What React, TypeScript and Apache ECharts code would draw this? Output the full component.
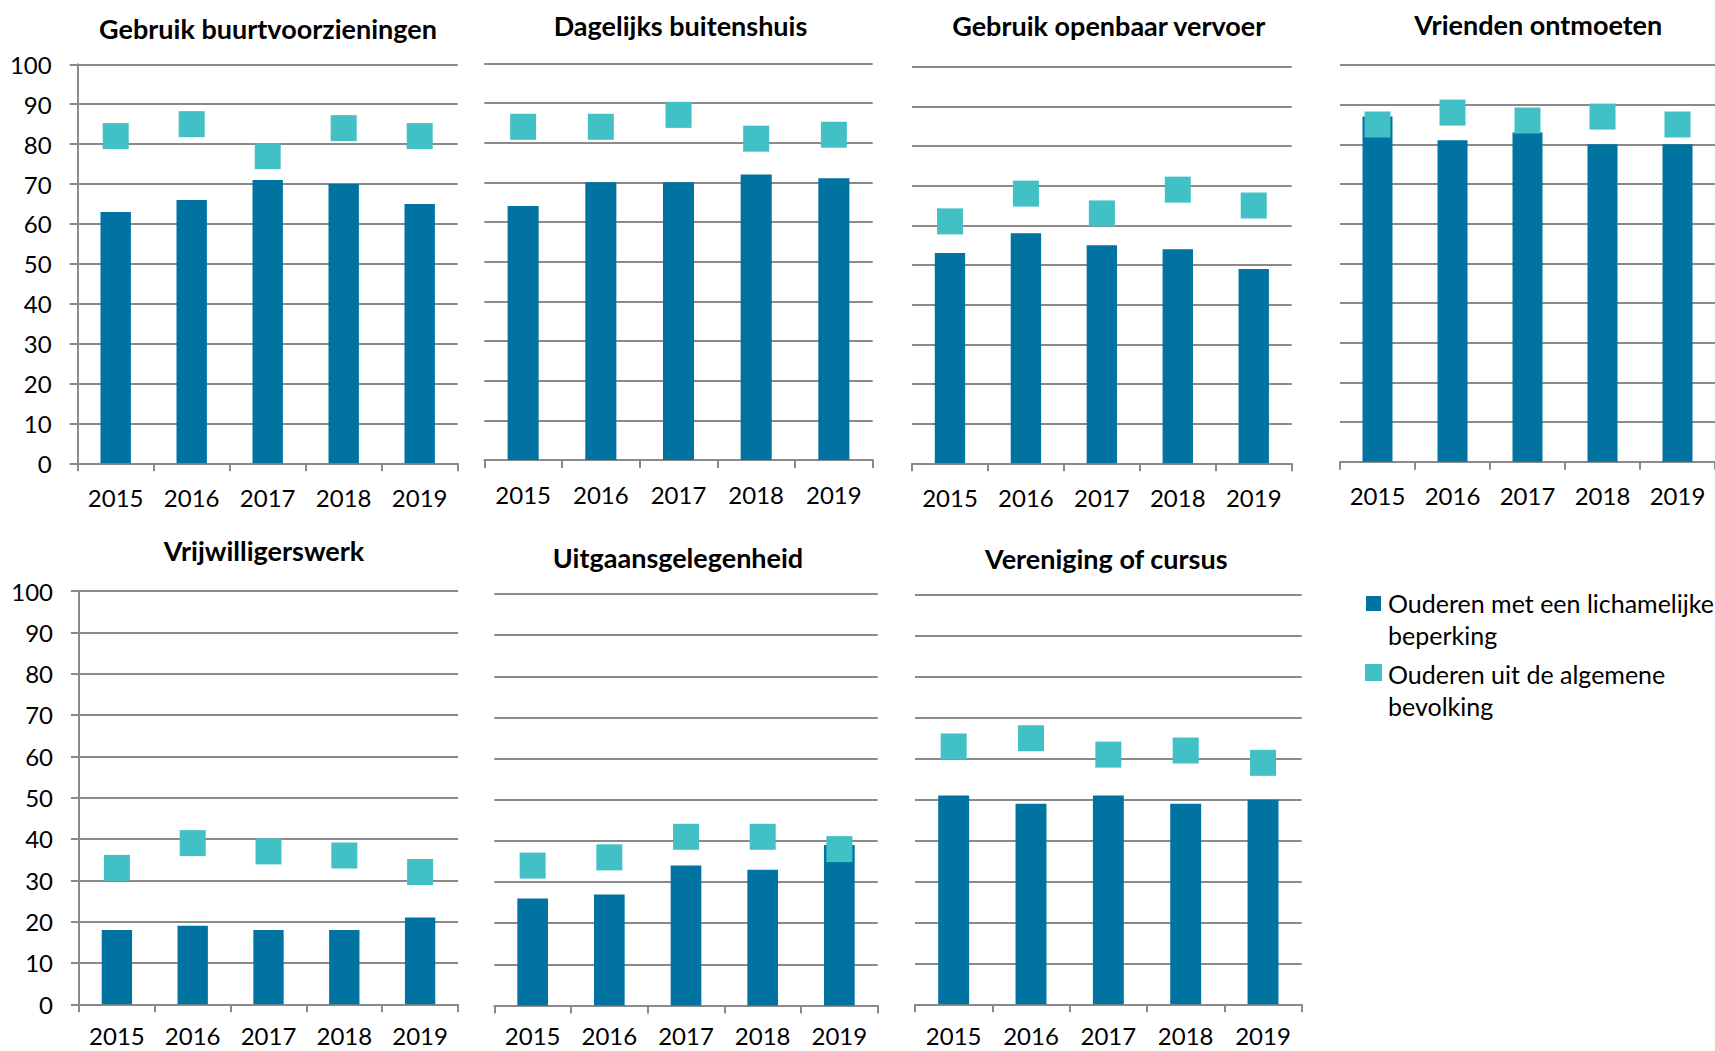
import React, { useEffect, useRef } from "react";
import * as echarts from "echarts";

// ---------- DATA ----------
const years = ["2015", "2016", "2017", "2018", "2019"];
const panelTitles = [
  "Gebruik buurtvoorzieningen",
  "Dagelijks buitenshuis",
  "Gebruik openbaar vervoer",
  "Vrienden ontmoeten",
  "Vrijwilligerswerk",
  "Uitgaansgelegenheid",
  "Vereniging of cursus",
];
const seriesNames = [
  "Ouderen met een lichamelijke beperking",
  "Ouderen uit de algemene bevolking",
];
const legendLabels = [
  "Ouderen met een lichamelijke\nbeperking",
  "Ouderen uit de algemene\nbevolking",
];
const yTicks = { min: 0, max: 100, interval: 10 };

// Ouderen met een lichamelijke beperking (bars)
const buurtBeperking = [63, 66, 71, 70, 65];
const dagelijksBeperking = [64, 70, 70, 72, 71];
const ovBeperking = [53, 58, 55, 54, 49];
const vriendenBeperking = [87, 81, 83, 80, 80];
const vrijwilligersBeperking = [18, 19, 18, 18, 21];
const uitgaanBeperking = [26, 27, 34, 33, 39];
const verenigingBeperking = [51, 49, 51, 49, 50];

// Ouderen uit de algemene bevolking (squares)
const buurtAlgemeen = [82, 85, 77, 84, 82];
const dagelijksAlgemeen = [84, 84, 87, 81, 82];
const ovAlgemeen = [61, 68, 63, 69, 65];
const vriendenAlgemeen = [85, 88, 86, 87, 85];
const vrijwilligersAlgemeen = [33, 39, 37, 36, 32];
const uitgaanAlgemeen = [34, 36, 41, 41, 38];
const verenigingAlgemeen = [63, 65, 61, 62, 59];

const barData = [
  buurtBeperking,
  dagelijksBeperking,
  ovBeperking,
  vriendenBeperking,
  vrijwilligersBeperking,
  uitgaanBeperking,
  verenigingBeperking,
];
const dotData = [
  buurtAlgemeen,
  dagelijksAlgemeen,
  ovAlgemeen,
  vriendenAlgemeen,
  vrijwilligersAlgemeen,
  uitgaanAlgemeen,
  verenigingAlgemeen,
];

// ---------- LAYOUT / STYLE ----------
const FONT = "Lato, 'Open Sans', sans-serif";
const BAR_COLOR = "#0073A0";
const DOT_COLOR = "#41C0C5";
const GRID_COLOR = "#8a8a8a";

const grids = [
  { left: 77.7, top: 64.3, width: 380, height: 399 },
  { left: 484.3, top: 63.3, width: 388.4, height: 396.7 },
  { left: 912, top: 66.7, width: 379.7, height: 396.6 },
  { left: 1340, top: 65, width: 396.5, height: 396.7 },
  { left: 79, top: 591, width: 379, height: 413.3 },
  { left: 494.3, top: 594, width: 383.4, height: 411.5 },
  { left: 915, top: 595, width: 386.7, height: 409.3 },
];
const showYAxis = [true, false, false, false, true, false, false];
const xLabelMargin = [22, 22, 22, 22, 19, 18, 19];
const titlePos = [
  [268, 28],
  [680.5, 25],
  [1108.8, 25],
  [1538.3, 24],
  [264, 550],
  [678, 557],
  [1106.3, 558],
];

export default function App() {
  const ref = useRef<HTMLDivElement>(null);

  useEffect(() => {
    if (!ref.current) return;
    const chart = echarts.init(ref.current, null, { renderer: "svg" });

    const xAxis = grids.map((_, i) => ({
      type: "category",
      gridIndex: i,
      data: years,
      axisLine: { lineStyle: { color: GRID_COLOR, width: 2 } },
      axisTick: { show: true, length: 8, lineStyle: { color: GRID_COLOR, width: 2 } },
      axisLabel: { fontSize: 24, color: "#000", margin: xLabelMargin[i], fontFamily: FONT },
    }));

    const yAxis = grids.map((_, i) => ({
      type: "value",
      gridIndex: i,
      min: yTicks.min,
      max: yTicks.max,
      interval: yTicks.interval,
      splitLine: { show: true, lineStyle: { color: GRID_COLOR, width: 2 } },
      axisLine: { show: showYAxis[i], lineStyle: { color: GRID_COLOR, width: 2 } },
      axisTick: { show: showYAxis[i], length: 8, lineStyle: { color: GRID_COLOR, width: 2 } },
      axisLabel: {
        show: showYAxis[i],
        fontSize: 24,
        color: "#000",
        margin: 26,
        fontFamily: FONT,
      },
    }));

    const series: any[] = [];
    grids.forEach((_, i) => {
      series.push({
        type: "bar",
        name: seriesNames[0],
        xAxisIndex: i,
        yAxisIndex: i,
        data: barData[i],
        barWidth: "40%",
        itemStyle: { color: BAR_COLOR },
        z: 2,
      });
      series.push({
        type: "scatter",
        name: seriesNames[1],
        xAxisIndex: i,
        yAxisIndex: i,
        data: dotData[i],
        symbol: "rect",
        symbolSize: 26,
        itemStyle: { color: DOT_COLOR, opacity: 1 },
        z: 3,
      });
    });

    const graphic: any[] = panelTitles.map((t, i) => ({
      type: "text",
      x: titlePos[i][0],
      y: titlePos[i][1],
      style: {
        text: t,
        fill: "#000",
        font: `bold 27px ${FONT}`,
        textAlign: "center",
        textVerticalAlign: "middle",
      },
    }));

    // legend
    graphic.push(
      { type: "rect", shape: { x: 1366, y: 596, width: 15, height: 15 }, style: { fill: BAR_COLOR } },
      {
        type: "text",
        x: 1388,
        y: 587,
        style: {
          text: legendLabels[0],
          fill: "#000",
          font: `25px ${FONT}`,
          lineHeight: 32,
          textVerticalAlign: "top",
        },
      },
      { type: "rect", shape: { x: 1365, y: 664, width: 17, height: 17 }, style: { fill: DOT_COLOR } },
      {
        type: "text",
        x: 1388,
        y: 657.5,
        style: {
          text: legendLabels[1],
          fill: "#000",
          font: `25px ${FONT}`,
          lineHeight: 32,
          textVerticalAlign: "top",
        },
      }
    );

    chart.setOption({
      animation: false,
      backgroundColor: "#ffffff",
      textStyle: { fontFamily: FONT },
      grid: grids.map((g) => ({ ...g, containLabel: false })),
      xAxis,
      yAxis,
      series,
      graphic,
    });

    return () => chart.dispose();
  }, []);

  return (
    <div
      ref={ref}
      style={{ position: "fixed", left: 0, top: 0, width: 1715, height: 1051, background: "#fff" }}
    />
  );
}
